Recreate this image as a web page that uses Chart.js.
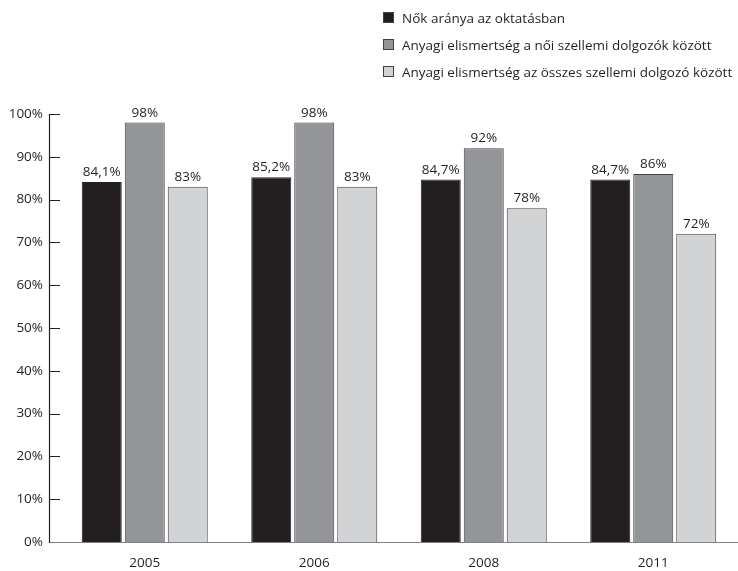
<!DOCTYPE html>
<html lang="hu">
<head>
<meta charset="utf-8">
<script src="https://cdn.jsdelivr.net/npm/chart.js@4.4.1/dist/chart.umd.min.js"></script>
<style>
    html, body { margin: 0; padding: 0; background: #ffffff; }
    #wrap { position: relative; width: 738px; height: 571px; }
    #legend {
        position: absolute; left: 383px; top: 4px;
        font-family: "Open Sans", sans-serif; font-size: 13.5px; color: #231f20;
    }
    .item { display: flex; align-items: center; height: 27px; white-space: nowrap; }
    .box { width: 11px; height: 11px; border: 1px solid #414042; margin-right: 8px; box-sizing: border-box; }
</style>
</head>
<body>
<div id="wrap">
    <canvas id="chart" width="738" height="571"></canvas>
    <div id="legend"></div>
</div>
<script>
// Years and series values (percent)
const years = ['2005', '2006', '2008', '2011'];
const seriesNames = [
    'Nők aránya az oktatásban',
    'Anyagi elismertség a női szellemi dolgozók között',
    'Anyagi elismertség az összes szellemi dolgozó között'
];
const nokAranya = [84.1, 85.2, 84.7, 84.7];
const noiDolgozok = [98, 98, 92, 86];
const osszesDolgozo = [83, 83, 78, 72];
const yTicks = [0, 10, 20, 30, 40, 50, 60, 70, 80, 90, 100];

const fills = ['#231f20', '#939598', '#d1d3d4'];
const FONT = '"Open Sans", sans-serif';

function fmt(v) {
    return String(v).replace('.', ',') + '%';
}

// Axis line with inward ticks, plus the baseline
const axisPlugin = {
    id: 'axisPlugin',
    afterDraw(chart) {
        const ctx = chart.ctx;
        const y = chart.scales.y;
        const area = chart.chartArea;
        const ax = area.left - 11;
        ctx.save();
        ctx.strokeStyle = '#808285';
        ctx.lineWidth = 1.2;
        ctx.beginPath();
        ctx.moveTo(ax, y.getPixelForValue(0) + 0.5);
        ctx.lineTo(chart.width, y.getPixelForValue(0) + 0.5);
        ctx.stroke();
        ctx.strokeStyle = '#231f20';
        ctx.lineWidth = 1.2;
        ctx.beginPath();
        ctx.moveTo(ax + 0.5, y.getPixelForValue(100));
        ctx.lineTo(ax + 0.5, y.getPixelForValue(0) + 1);
        yTicks.forEach(t => {
            if (t === 0) return;
            const py = Math.round(y.getPixelForValue(t)) + 0.5;
            ctx.moveTo(ax, py);
            ctx.lineTo(area.left, py);
        });
        ctx.stroke();
        ctx.restore();
    }
};

// Value labels above each bar
const valuePlugin = {
    id: 'valuePlugin',
    afterDatasetsDraw(chart) {
        const ctx = chart.ctx;
        ctx.save();
        ctx.font = '13.5px ' + FONT;
        ctx.fillStyle = '#231f20';
        ctx.textAlign = 'center';
        ctx.textBaseline = 'bottom';
        chart.data.datasets.forEach((ds, i) => {
            chart.getDatasetMeta(i).data.forEach((bar, j) => {
                ctx.fillText(fmt(ds.data[j]), bar.x, bar.y - 3);
            });
        });
        ctx.restore();
    }
};

const seriesData = [nokAranya, noiDolgozok, osszesDolgozo];

const chart = new Chart(document.getElementById('chart'), {
    type: 'bar',
    data: {
        labels: years,
        datasets: seriesData.map((d, i) => ({
            label: seriesNames[i],
            data: d,
            backgroundColor: fills[i],
            borderColor: i === 0 ? fills[0] : '#414042',
            borderWidth: 1,
            categoryPercentage: 0.761,
            barPercentage: 0.93
        }))
    },
    options: {
        responsive: false,
        animation: false,
        layout: { padding: { top: 114, right: 0, bottom: 0, left: 0 } },
        plugins: {
            legend: { display: false },
            tooltip: { enabled: false }
        },
        scales: {
            x: {
                grid: { display: false, drawTicks: false },
                border: { display: false },
                ticks: { padding: 13, color: '#231f20', font: { family: FONT, size: 13.5 } },
                afterFit(scale) { scale.height = 29; }
            },
            y: {
                min: 0,
                max: 100,
                grid: { display: false, drawTicks: false },
                border: { display: false },
                afterBuildTicks(scale) { scale.ticks = yTicks.map(v => ({ value: v })); },
                ticks: {
                    padding: 17,
                    color: '#231f20',
                    font: { family: FONT, size: 13.5 },
                    callback: v => v + '%'
                },
                afterFit(scale) { scale.width = 60; }
            }
        }
    },
    plugins: [axisPlugin, valuePlugin]
});

// Legend, one entry per line
const legend = document.getElementById('legend');
chart.data.datasets.forEach(ds => {
    const row = document.createElement('div');
    row.className = 'item';
    const box = document.createElement('span');
    box.className = 'box';
    box.style.background = ds.backgroundColor;
    const txt = document.createElement('span');
    txt.textContent = ds.label;
    row.appendChild(box);
    row.appendChild(txt);
    legend.appendChild(row);
});
</script>
</body>
</html>
